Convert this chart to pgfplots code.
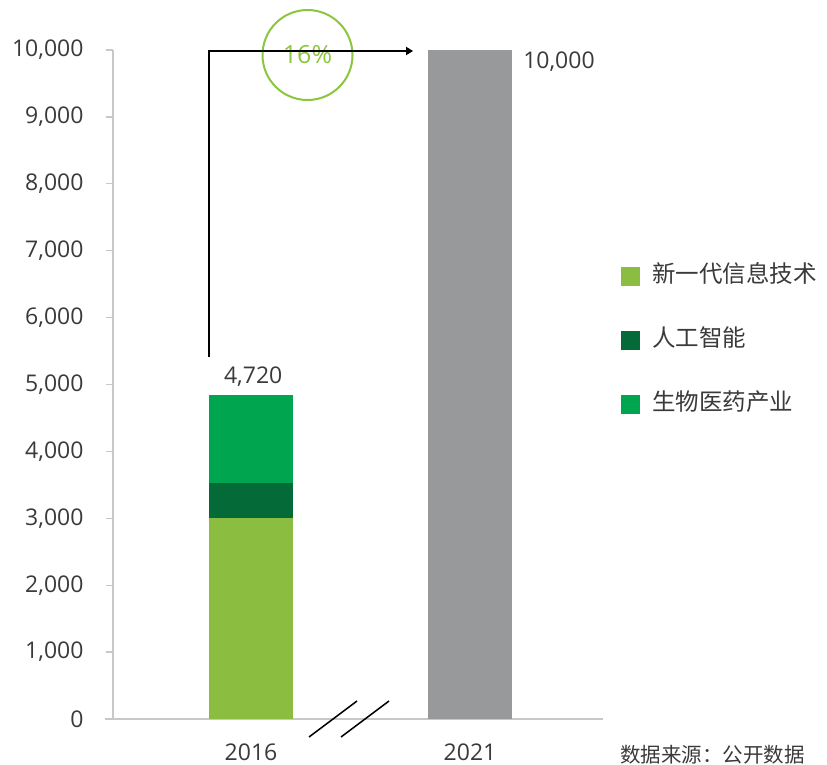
\documentclass[border=0pt]{standalone}
\usepackage{pgfplots}
\pgfplotsset{compat=1.18}
\usetikzlibrary{arrows.meta}
\usepackage{fontspec}
\setmainfont{Open Sans}
\newfontfamily\cjk{Noto Sans CJK SC}
\definecolor{lg}{HTML}{8ABD40}
\definecolor{dg}{HTML}{046A38}
\definecolor{mg}{HTML}{00A54F}
\definecolor{gr}{HTML}{97999B}
\definecolor{txt}{HTML}{3A3A3A}
\definecolor{axl}{HTML}{C8C8C8}
\definecolor{pc}{HTML}{8CC63F}
\begin{document}
\begin{tikzpicture}
\path[use as bounding box] (0,0) rectangle (827bp,765bp);
\begin{axis}[
  at={(113bp,46bp)}, anchor=south west,
  scale only axis, width=490bp, height=669bp,
  xmin=-0.63, xmax=1.607, ymin=0, ymax=10000,
  ybar stacked, bar width=84bp,
  axis lines=left,
  axis line style={draw=axl, line width=1.3bp, -},
  x axis line style={shorten <=-8bp},
  xtick={0,1}, xticklabels={2016,2021},
  major x tick style={draw=none},
  ytick={0,1000,...,10000},
  tick align=outside, major tick length=7bp,
  y tick style={draw=axl, line width=1.3bp},
  scaled y ticks=false,
  /pgf/number format/.cd, 1000 sep={,}, assume math mode=true, /pgfplots/.cd,
  tick label style={font=\fontsize{23bp}{27bp}\selectfont, text=txt},
  yticklabel style={xshift=-19bp},
  xticklabel style={inner sep=0pt, yshift=-18bp},
  clip=false,
  legend style={at={(1.037,0.679)}, anchor=north west, draw=none, fill=none,
    inner sep=0pt, row sep=40bp,
    font=\cjk\fontsize{23.5bp}{27bp}\selectfont, text=txt,
    nodes={inner sep=0pt, text height=18bp, text depth=6bp},
    /tikz/every odd column/.append style={column sep=12bp}},
  legend cell align=left,
  legend image code/.code={\fill[#1, draw=none] (0bp,-9.5bp) rectangle (19bp,9.5bp);},
]
\addplot[fill=lg, draw=none] coordinates {(0,3000) (1,0)};
\addlegendentry{新一代信息技术}
\addplot[fill=dg, draw=none] coordinates {(0,530) (1,0)};
\addlegendentry{人工智能}
\addplot[fill=mg, draw=none] coordinates {(0,1310) (1,0)};
\addlegendentry{生物医药产业}
\addplot[fill=gr, draw=none, forget plot] coordinates {(0,0) (1,10000)};

\node[font=\fontsize{23bp}{27bp}\selectfont, text=txt] at (axis cs:0.01,5110) {4,720};
\node[anchor=west, font=\fontsize{23bp}{27bp}\selectfont, text=txt] at (axis cs:1.227,9830) {10,000};

\draw[line width=2bp, -{Triangle[length=7bp,width=8bp]}] (axis cs:-0.192,5411) |- (axis cs:0.740,9985);
\node[circle, draw=pc, line width=2bp, fill=white, minimum size=90bp, inner sep=0pt,
  font=\fontsize{25bp}{29bp}\selectfont, text=pc] at (axis cs:0.258,9925) {16\%};

\draw[line width=1.5bp] (axis cs:0.265,-269) -- (axis cs:0.484,269);
\draw[line width=1.5bp] (axis cs:0.411,-269) -- (axis cs:0.630,269);
\end{axis}
\node[anchor=west, inner sep=0pt, font=\cjk\fontsize{20.5bp}{24bp}\selectfont, text=txt] at (620bp,10bp) {数据来源：公开数据};
\end{tikzpicture}
\end{document}
